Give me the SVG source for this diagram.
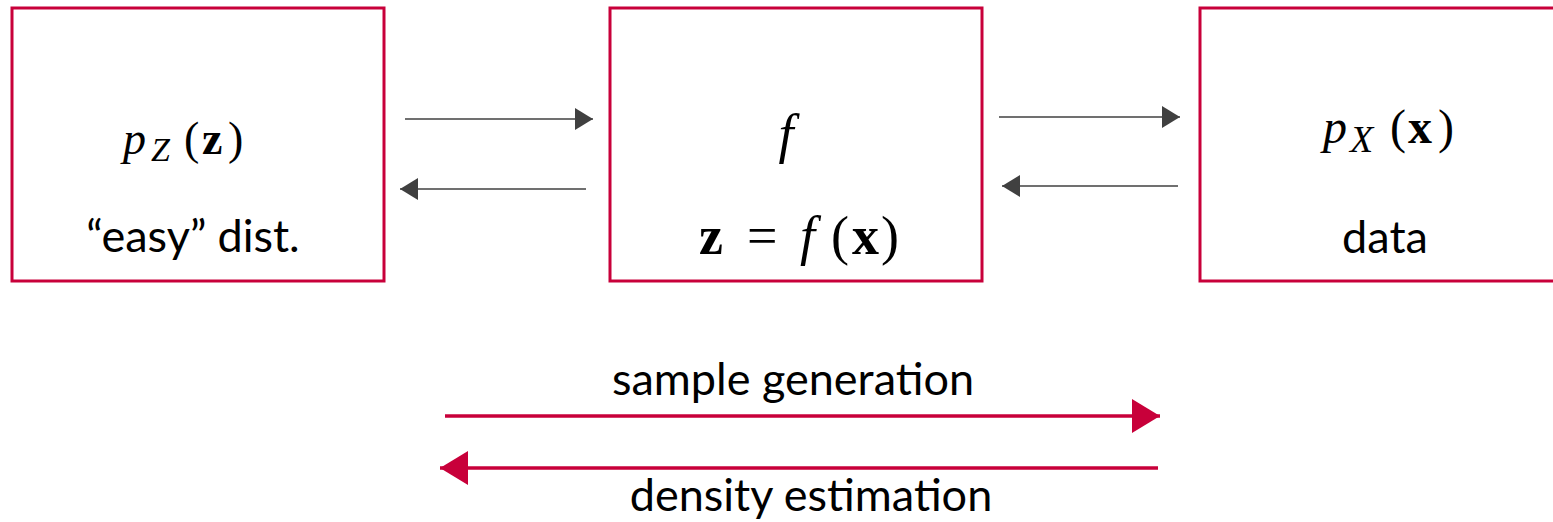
<svg xmlns="http://www.w3.org/2000/svg" width="1553" height="522" viewBox="0 0 1553 522">
<defs>
<style>
.box{fill:#fff;stroke:#C8003A;stroke-width:3}
.lbl{font-family:Lato,"Open Sans","Liberation Sans",sans-serif;font-size:45px;fill:#000}
.math{font-family:"Liberation Serif","DejaVu Serif",serif;fill:#000}
.it{font-style:italic}
.bf{font-weight:bold}
.thin{stroke:#404040;stroke-width:1.5;fill:none}
.red{stroke:#C8003A;stroke-width:3.5;fill:none}
</style>
<marker id="ah" markerWidth="18" markerHeight="22" refX="18" refY="11" orient="auto" markerUnits="userSpaceOnUse">
<path d="M0,0 L18,11 L0,22 Z" fill="#404040"/>
</marker>
<marker id="ahr" markerWidth="28" markerHeight="34" refX="28" refY="17" orient="auto" markerUnits="userSpaceOnUse">
<path d="M0,0 L28,17 L0,34 Z" fill="#C8003A"/>
</marker>
</defs>
<rect width="1553" height="522" fill="#fff"/>
<g id="node-pz">
<rect class="box" x="12" y="8" width="372" height="273"/>
<text class="math" y="154" font-size="46"><tspan class="it" x="123">p</tspan><tspan class="it" x="151" y="161" font-size="34">Z</tspan><tspan x="184" y="154">(</tspan><tspan class="bf" x="202">z</tspan><tspan x="228">)</tspan></text>
<text class="lbl" x="193" y="252" text-anchor="middle">“easy” dist.</text>
</g>
<g id="node-f">
<rect class="box" x="610" y="8" width="372" height="273"/>
<text class="math it" x="786" y="152" font-size="54" text-anchor="middle">f</text>
<text class="math" y="254" font-size="54"><tspan class="bf" x="699">z</tspan><tspan x="747">=</tspan><tspan class="it" x="800">f</tspan><tspan x="831">(</tspan><tspan class="bf" x="852">x</tspan><tspan x="881">)</tspan></text>
</g>
<g id="node-px">
<rect class="box" x="1200" y="8" width="372" height="273"/>
<text class="math" y="143" font-size="48"><tspan class="it" x="1323">p</tspan><tspan class="it" x="1350" y="152" font-size="38">X</tspan><tspan x="1390" y="143">(</tspan><tspan class="bf" x="1408">x</tspan><tspan x="1438">)</tspan></text>
<text class="lbl" x="1385" y="253" text-anchor="middle">data</text>
</g>
<g id="connectors">
<line class="thin" x1="405" y1="119" x2="593" y2="119" marker-end="url(#ah)"/>
<line class="thin" x1="586" y1="189" x2="400" y2="189" marker-end="url(#ah)"/>
<line class="thin" x1="999" y1="117" x2="1180" y2="117" marker-end="url(#ah)"/>
<line class="thin" x1="1178" y1="186" x2="1002" y2="186" marker-end="url(#ah)"/>
<line class="red" x1="445" y1="416" x2="1160" y2="416" marker-end="url(#ahr)"/>
<line class="red" x1="1158" y1="468" x2="440" y2="468" marker-end="url(#ahr)"/>
</g>
<text class="lbl" x="793" y="395" text-anchor="middle">sample generation</text>
<text class="lbl" x="811" y="511" text-anchor="middle">density estimation</text>
</svg>
